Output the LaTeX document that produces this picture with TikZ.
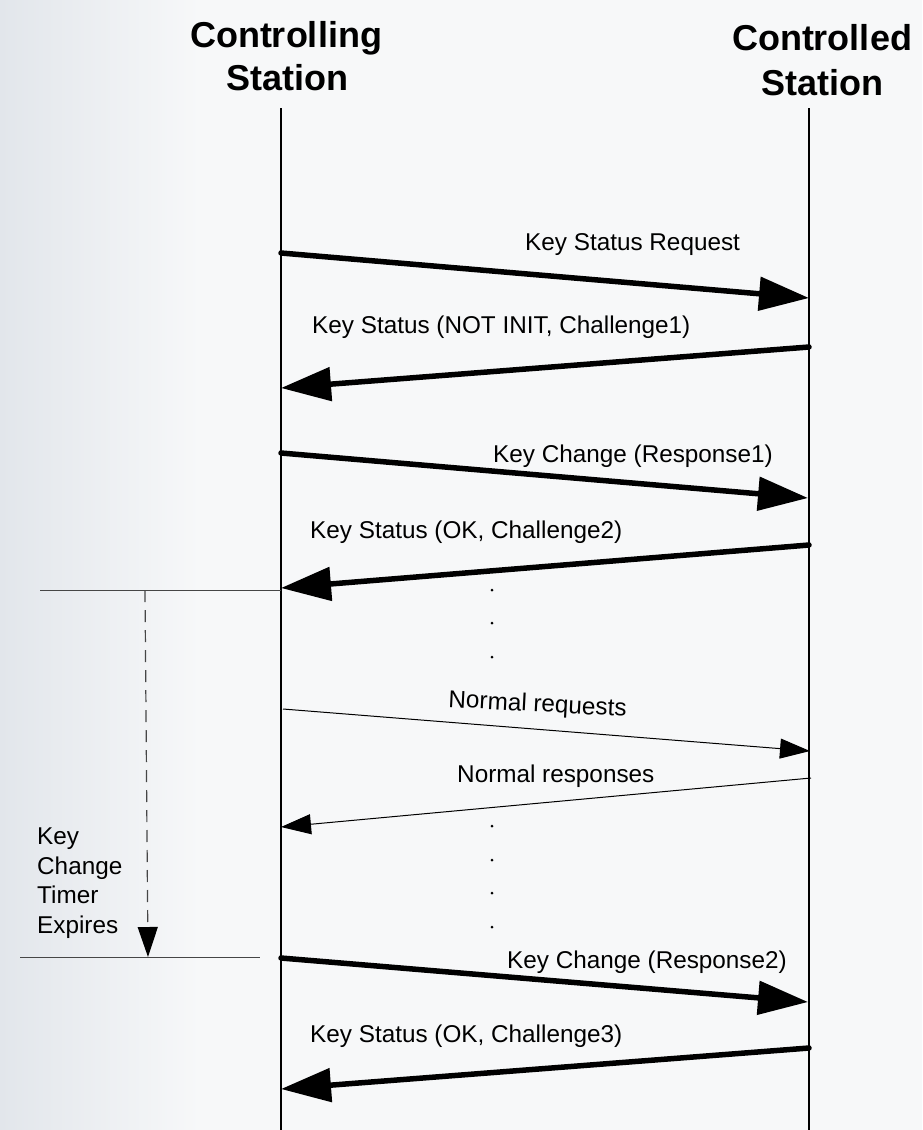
\documentclass[tikz,border=0pt]{standalone}
\usepackage{fontspec}
\setmainfont{Liberation Sans}
\usetikzlibrary{arrows.meta}
\definecolor{bggray}{RGB}{247,248,249}
\definecolor{edgegray}{RGB}{226,230,235}
\definecolor{linegray}{RGB}{70,70,70}
\begin{document}
\begin{tikzpicture}[x=1pt,y=-1pt,
  lifeline/.style={line width=1.2pt,black},
  bigmsg/.style={line width=5.5pt,line cap=round,-{Triangle[length=50pt,width=33pt]}},
  smallmsg/.style={line width=1pt,-{Triangle[length=30pt,width=20pt]}},
  msglabel/.style={anchor=base west,inner sep=0pt,font=\fontsize{24.3}{29}\selectfont},
  title/.style={anchor=base,inner sep=0pt,font=\fontsize{36}{43}\selectfont\bfseries},
  dotmark/.style={circle,fill=black,inner sep=0pt,minimum size=3pt},
  timerline/.style={line width=1pt,linegray}]
  %\draw [help lines,step=50] (0,0) grid (922,1130);

  % Background
  \useasboundingbox (0,0) rectangle (922,1130);
  \fill [bggray] (0,0) rectangle (922,1130);
  \shade [left color=edgegray,right color=bggray] (0,0) rectangle (200,1130);

  % Station titles
  \node [title] (ctrlA) at (286,47) {Controlling};
  \node [title] (ctrlB) at (287,90) {Station};
  \node [title] (ctldA) at (822,50) {Controlled};
  \node [title] (ctldB) at (822,95) {Station};

  % Lifelines
  \coordinate (ltop) at (281,108);
  \coordinate (lbot) at (281,1130);
  \coordinate (rtop) at (809,108);
  \coordinate (rbot) at (809,1130);
  \draw [lifeline] (ltop) -- (lbot);
  \draw [lifeline] (rtop) -- (rbot);

  % Message end points on the lifelines
  \coordinate (L1) at (281,253);  \coordinate (R1) at (809,298);
  \coordinate (R2) at (809,347);  \coordinate (L2) at (281,388);
  \coordinate (L3) at (281,453);  \coordinate (R3) at (808,498);
  \coordinate (R4) at (809,545);  \coordinate (L4) at (281,588);
  \coordinate (L5) at (283,709);  \coordinate (R5) at (810,751);
  \coordinate (R6) at (811,778);  \coordinate (L6) at (281,827);
  \coordinate (L7) at (281,958);  \coordinate (R7) at (808,1002);
  \coordinate (R8) at (809,1048); \coordinate (L8) at (281,1089);

  % Key exchange messages
  \draw [bigmsg] (L1) -- (R1);
  \node [msglabel] (m1) at (525,250) {Key Status Request};
  \draw [bigmsg] (R2) -- (L2);
  \node [msglabel] (m2) at (312,333) {Key Status (NOT INIT, Challenge1)};
  \draw [bigmsg] (L3) -- (R3);
  \node [msglabel] (m3) at (493,462) {Key Change (Response1)};
  \draw [bigmsg] (R4) -- (L4);
  \node [msglabel] (m4) at (310,538) {Key Status (OK, Challenge2)};

  % Normal traffic
  \draw [smallmsg] (L5) -- (R5);
  \node [msglabel,rotate=-3] (m5) at (448,707) {Normal requests};
  \draw [smallmsg] (R6) -- (L6);
  \node [msglabel] (m6) at (457,782) {Normal responses};

  % Second key change
  \draw [bigmsg] (L7) -- (R7);
  \node [msglabel] (m7) at (507,968) {Key Change (Response2)};
  \draw [bigmsg] (R8) -- (L8);
  \node [msglabel] (m8) at (310,1042) {Key Status (OK, Challenge3)};

  % Dots between messages
  \foreach \y [count=\i] in {590,623,657}
    \node [dotmark] (dotA\i) at (492,\y) {};
  \foreach \y [count=\i] in {826,860,893,927}
    \node [dotmark] (dotB\i) at (492,\y) {};

  % Key change timer
  \coordinate (tstartA) at (40,590);
  \coordinate (tendA) at (20,957);
  \coordinate (tendB) at (260,957);
  \coordinate (ttop) at (145,590);
  \coordinate (tbot) at (148,957);
  \draw [timerline] (tstartA) -- (L4 |- tstartA);
  \draw [timerline] (tendA) -- (tendB);
  \draw [timerline,line width=1.2pt,dash pattern=on 12pt off 8pt,
    -{Triangle[length=30pt,width=20pt,fill=black,color=black]}] (ttop) -- (tbot);
  \node [anchor=north west,align=left,inner sep=0pt,
    font=\fontsize{24.3}{29.5}\selectfont] (timer) at (37,828)
    {Key\\Change\\Timer\\Expires};

\end{tikzpicture}
\end{document}
